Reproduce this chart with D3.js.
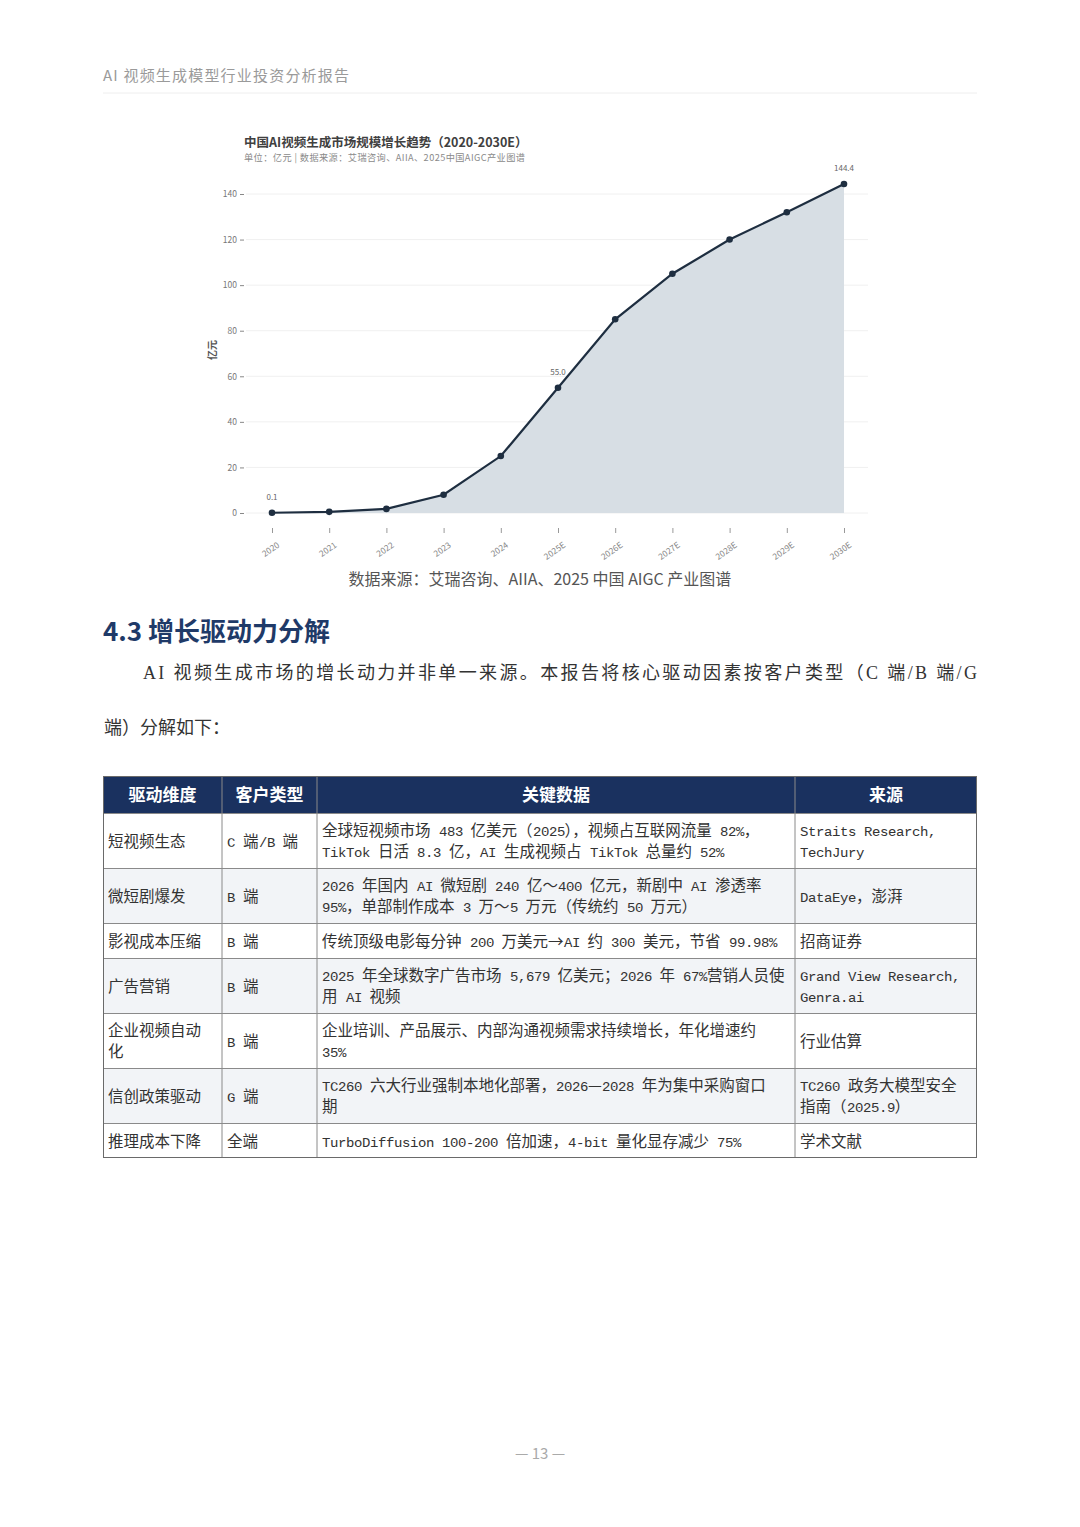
<!DOCTYPE html>
<html><head><meta charset="utf-8">
<script src="https://cdn.jsdelivr.net/npm/d3@7/dist/d3.min.js"></script>
<style>
@font-face { font-family: "MonoS"; src: local("Liberation Mono"), local("LiberationMono-Regular"), local("LiberationMono"); size-adjust: 88%; unicode-range: U+0020-007E; }
html,body{margin:0;padding:0;background:#fff;}
svg{display:block;}
</style></head>
<body>
<svg id="page" width="1080" height="1527"></svg>
<script>
// ---------- DATA ----------
const years = ["2020","2021","2022","2023","2024","2025E","2026E","2027E","2028E","2029E","2030E"];
const marketSize = [0.1, 0.5, 1.8, 8, 25, 55.0, 85, 105, 120, 132, 144.4];
const labeledYears = ["2020","2025E","2030E"];
const yTicks = [0, 20, 40, 60, 80, 100, 120, 140];

const tableHeaders = ["驱动维度","客户类型","关键数据","来源"];
const driverDims = [["短视频生态"],["微短剧爆发"],["影视成本压缩"],["广告营销"],["企业视频自动","化"],["信创政策驱动"],["推理成本下降"]];
const customerTypes = [["C 端/B 端"],["B 端"],["B 端"],["B 端"],["B 端"],["G 端"],["全端"]];
const keyData = [
  ["全球短视频市场 483 亿美元（2025），视频占互联网流量 82%，","TikTok 日活 8.3 亿，AI 生成视频占 TikTok 总量约 52%"],
  ["2026 年国内 AI 微短剧 240 亿～400 亿元，新剧中 AI 渗透率","95%，单部制作成本 3 万～5 万元（传统约 50 万元）"],
  ["传统顶级电影每分钟 200 万美元→AI 约 300 美元，节省 99.98%"],
  ["2025 年全球数字广告市场 5,679 亿美元；2026 年 67%营销人员使","用 AI 视频"],
  ["企业培训、产品展示、内部沟通视频需求持续增长，年化增速约","35%"],
  ["TC260 六大行业强制本地化部署，2026—2028 年为集中采购窗口","期"],
  ["TurboDiffusion 100-200 倍加速，4-bit 量化显存减少 75%"]
];
const sources = [["Straits Research,","TechJury"],["DataEye，澎湃"],["招商证券"],["Grand View Research,","Genra.ai"],["行业估算"],["TC260 政务大模型安全","指南（2025.9）"],["学术文献"]];

// ---------- PAGE ----------
const svg = d3.select("#page");
const SANS = "'Noto Sans CJK SC','Noto Sans',sans-serif";
const TBL = "'MonoS','Noto Sans CJK SC',sans-serif";
const SERIF = "'Liberation Serif','Noto Sans CJK SC',serif";

svg.append("rect").attr("width",1080).attr("height",1527).attr("fill","#fff");

// running header
svg.append("text").attr("x",103).attr("y",81).attr("font-family",SANS).attr("font-size",15)
  .attr("fill","#9a9a9a").attr("textLength",246).attr("lengthAdjust","spacing")
  .text("AI 视频生成模型行业投资分析报告");
svg.append("line").attr("x1",103).attr("x2",977).attr("y1",93).attr("y2",93).attr("stroke","#eeeeee").attr("stroke-width",1);

// ---------- CHART ----------
const x = d3.scalePoint().domain(years).range([272, 844]);
const y = d3.scaleLinear().domain([0, 140]).range([513, 194]);

const chart = svg.append("g");
chart.append("text").attr("x",244).attr("y",147).attr("font-family",SANS).attr("font-size",12.5)
  .attr("font-weight",700).attr("fill","#404040").text("中国AI视频生成市场规模增长趋势（2020-2030E）");
chart.append("text").attr("x",244).attr("y",161).attr("font-family",SANS).attr("font-size",9.2)
  .attr("fill","#8a8a8a").attr("textLength",281).attr("lengthAdjust","spacing")
  .text("单位：亿元 | 数据来源：艾瑞咨询、AIIA、2025中国AIGC产业图谱");

// gridlines
chart.append("g").selectAll("line").data(yTicks).join("line")
  .attr("x1",246).attr("x2",868).attr("y1",d=>y(d)).attr("y2",d=>y(d))
  .attr("stroke","#f0f0f0").attr("stroke-width",1);

// area
const pts = years.map((yr,i)=>({yr, v: marketSize[i]}));
chart.append("path").datum(pts)
  .attr("d", d3.area().x(d=>x(d.yr)).y0(y(0)).y1(d=>y(d.v)))
  .attr("fill","#d7dee4");
// line
chart.append("path").datum(pts)
  .attr("d", d3.line().x(d=>x(d.yr)).y(d=>y(d.v)))
  .attr("fill","none").attr("stroke","#1e2e40").attr("stroke-width",2.2);
// markers
chart.append("g").selectAll("circle").data(pts).join("circle")
  .attr("cx",d=>x(d.yr)).attr("cy",d=>y(d.v)).attr("r",3.3)
  .attr("fill","#1e2e40");
// data labels
chart.append("g").selectAll("text").data(pts.filter(d=>labeledYears.includes(d.yr))).join("text")
  .attr("x",d=>x(d.yr)).attr("y",d=>y(d.v)-13).attr("text-anchor","middle")
  .attr("font-family",SANS).attr("font-size",8).attr("fill","#666")
  .text(d=>d.v.toFixed(1));

// y axis
const yAxis = chart.append("g").attr("transform","translate(244,0)")
  .call(d3.axisLeft(y).tickValues(yTicks).tickSize(4).tickPadding(3));
yAxis.select(".domain").remove();
yAxis.selectAll(".tick line").attr("stroke","#888");
yAxis.selectAll("text").attr("font-family",SANS).attr("font-size",8.5).attr("fill","#777");
chart.append("text").attr("transform","translate(216,350) rotate(-90)").attr("text-anchor","middle")
  .attr("font-family",SANS).attr("font-size",10).attr("font-weight",700).attr("fill","#555").text("亿元");

// x axis
const xAxis = chart.append("g").attr("transform","translate(0,528)")
  .call(d3.axisBottom(x).tickSize(5).tickPadding(4));
xAxis.select(".domain").remove();
xAxis.selectAll(".tick line").attr("stroke","#999");
xAxis.selectAll("text").attr("font-family",SANS).attr("font-size",8.5).attr("fill","#888")
  .attr("text-anchor","end").attr("dy","0.3em")
  .attr("transform","translate(1,9) rotate(-35)");

// caption
svg.append("text").attr("x",540).attr("y",585).attr("text-anchor","middle").attr("font-family",SANS)
  .attr("font-size",16).attr("fill","#555").text("数据来源：艾瑞咨询、AIIA、2025 中国 AIGC 产业图谱");

// ---------- SECTION ----------
svg.append("text").attr("x",103).attr("y",641).attr("font-family",SANS).attr("font-size",26)
  .attr("font-weight",700).attr("fill","#1f3a68").text("4.3 增长驱动力分解");
svg.append("text").attr("x",143).attr("y",679).attr("font-family",SERIF).attr("font-size",18)
  .attr("fill","#333").attr("textLength",834).attr("lengthAdjust","spacing")
  .text("AI 视频生成市场的增长动力并非单一来源。本报告将核心驱动因素按客户类型（C 端/B 端/G");
svg.append("text").attr("x",104).attr("y",734).attr("font-family",SERIF).attr("font-size",18)
  .attr("fill","#333").attr("textLength",126).attr("lengthAdjust","spacing")
  .text("端）分解如下：");

// ---------- TABLE ----------
const colX = [103, 222, 317, 795, 977];
const headTop = 776, headH = 37;
const lineGap = 21;
const rows = driverDims.map((d,i)=>({cells:[d, customerTypes[i], keyData[i], sources[i]]}));
let yy = headTop + headH;
rows.forEach(r=>{
  const n = d3.max(r.cells, c=>c.length);
  r.h = n > 1 ? 55 : 35; r.top = yy; yy += r.h;
});
const tableBottom = yy;
const tbl = svg.append("g");
tbl.append("rect").attr("x",colX[0]).attr("y",headTop).attr("width",colX[4]-colX[0]).attr("height",headH).attr("fill","#1a315f");
tbl.selectAll("text.h").data(tableHeaders).join("text").attr("class","h")
  .attr("x",(d,i)=>(colX[i]+colX[i+1])/2).attr("y",headTop+25).attr("text-anchor","middle")
  .attr("font-family",SANS).attr("font-size",17).attr("font-weight",700).attr("fill","#fff").text(d=>d);

const rg = tbl.selectAll("g.row").data(rows).join("g").attr("class","row");
rg.append("rect").attr("x",colX[0]).attr("y",d=>d.top).attr("width",colX[4]-colX[0]).attr("height",d=>d.h)
  .attr("fill",(d,i)=>i%2===1?"#f2f4f7":"#ffffff");
rg.each(function(r){
  const g = d3.select(this);
  r.cells.forEach((lines,ci)=>{
    const maxW = colX[ci+1]-colX[ci]-8;
    lines.forEach((ln,li)=>{
      const t = g.append("text").attr("x",colX[ci]+5)
        .attr("y", r.top + r.h/2 + (li-(lines.length-1)/2)*lineGap + 6)
        .attr("font-family",TBL).attr("font-size",15.5).attr("fill","#333").text(ln);
      const w = t.node().getComputedTextLength();
      if (w > maxW) t.attr("textLength",maxW).attr("lengthAdjust","spacingAndGlyphs");
    });
  });
});
// grid lines
tbl.selectAll("line.hl").data(rows).join("line").attr("class","hl")
  .attr("x1",colX[0]).attr("x2",colX[4]).attr("y1",d=>d.top+0.5).attr("y2",d=>d.top+0.5)
  .attr("stroke","#8a8a8a").attr("stroke-width",1);
tbl.selectAll("line.vl").data(colX.slice(1,4)).join("line").attr("class","vl")
  .attr("x1",d=>d).attr("x2",d=>d).attr("y1",headTop).attr("y2",tableBottom)
  .attr("stroke","#8a8a8a").attr("stroke-width",1);
tbl.append("rect").attr("x",colX[0]+0.5).attr("y",headTop+0.5).attr("width",colX[4]-colX[0]-1).attr("height",tableBottom-headTop-1)
  .attr("fill","none").attr("stroke","#6a6a6a").attr("stroke-width",1);

// page number
svg.append("text").attr("x",540).attr("y",1459).attr("text-anchor","middle").attr("font-family",SANS)
  .attr("font-size",15).attr("fill","#aaa").text("— 13 —");
</script>
</body></html>
